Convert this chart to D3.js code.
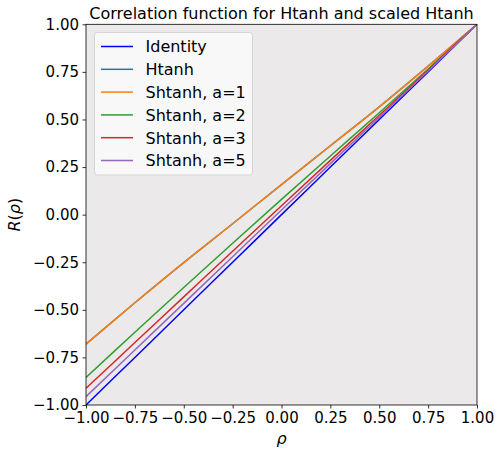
<!DOCTYPE html>
<html><head><meta charset="utf-8">
<script src="https://cdn.jsdelivr.net/npm/d3@7"></script>
<style>body{margin:0;background:#fff;} svg{display:block;font-family:"DejaVu Sans",sans-serif;}</style>
</head><body><svg id="c" width="501" height="454"></svg>
<script>
const rho      = [-1, -0.75, -0.5, -0.25, 0, 0.25, 0.5, 0.75, 1];
const identity = [-1, -0.75, -0.5, -0.25, 0, 0.25, 0.5, 0.75, 1];
const htanh    = [-0.68, -0.463, -0.252, -0.048, 0.158, 0.362, 0.566, 0.78, 1.0];
const shtanh1  = [-0.68, -0.463, -0.252, -0.048, 0.158, 0.362, 0.566, 0.78, 1.0];
const shtanh2  = [-0.855, -0.618, -0.383, -0.15, 0.08, 0.308, 0.535, 0.765, 1.0];
const shtanh3  = [-0.912, -0.672, -0.432, -0.192, 0.047, 0.285, 0.522, 0.76, 1.0];
const shtanh5  = [-0.956, -0.711, -0.466, -0.221, 0.024, 0.268, 0.511, 0.755, 1.0];
const seriesNames = ["Identity", "Htanh", "Shtanh, a=1", "Shtanh, a=2", "Shtanh, a=3", "Shtanh, a=5"];
const seriesColors = ["#0000ff", "#1f77b4", "#ff7f0e", "#2ca02c", "#d62728", "#9467bd"];
const ticks = [-1, -0.75, -0.5, -0.25, 0, 0.25, 0.5, 0.75, 1];
const seriesValues = [identity, htanh, shtanh1, shtanh2, shtanh3, shtanh5];

const svg = d3.select("#c");
const L = 86, R = 477, T = 24.3, B = 405;
const x = d3.scaleLinear().domain([-1, 1]).range([L, R]);
const y = d3.scaleLinear().domain([-1, 1]).range([B, T]);

svg.append("rect").attr("x", L).attr("y", T).attr("width", R - L).attr("height", B - T).attr("fill", "#ebe9e9");

svg.append("clipPath").attr("id", "pc").append("rect")
  .attr("x", L).attr("y", T).attr("width", R - L).attr("height", B - T);

const line = d3.line().x((d, i) => x(rho[i])).y(d => y(d)).curve(d3.curveCatmullRom.alpha(0.5));
const g = svg.append("g").attr("clip-path", "url(#pc)");
seriesValues.forEach((vals, k) => {
  g.append("path").attr("d", line(vals)).attr("fill", "none")
    .attr("stroke", seriesColors[k]).attr("stroke-width", 1.5);
});

const fmt = d3.format(".2f");
const minusFmt = v => fmt(v).replace("-", "\u2212");
const xAxis = svg.append("g").attr("transform", `translate(0,${B})`)
  .call(d3.axisBottom(x).tickValues(ticks).tickFormat(minusFmt).tickSize(3.5).tickPadding(3.5));
const yAxis = svg.append("g").attr("transform", `translate(${L},0)`)
  .call(d3.axisLeft(y).tickValues(ticks).tickFormat(minusFmt).tickSize(3.5).tickPadding(3.5));
[xAxis, yAxis].forEach(a => {
  a.select(".domain").remove();
  a.selectAll("line").attr("stroke", "#000").attr("stroke-width", 0.8);
  a.selectAll("text").attr("font-size", 15).attr("fill", "#000").attr("font-family", "DejaVu Sans");
});

svg.append("rect").attr("x", L).attr("y", T).attr("width", R - L).attr("height", B - T)
  .attr("fill", "none").attr("stroke", "#000").attr("stroke-width", 0.8);

svg.append("text").attr("x", (L + R) / 2).attr("y", 19).attr("text-anchor", "middle")
  .attr("font-size", 16).text("Correlation function for Htanh and scaled Htanh");
svg.append("text").attr("x", (L + R) / 2).attr("y", 444).attr("text-anchor", "middle")
  .attr("font-size", 16).attr("font-style", "italic").text("ρ");
svg.append("text").attr("transform", `translate(20,${(T + B) / 2}) rotate(-90)`).attr("text-anchor", "middle")
  .attr("font-size", 16).html('<tspan font-style="italic">R</tspan>(<tspan font-style="italic">ρ</tspan>)');

const lg = svg.append("g");
lg.append("rect").attr("x", 94.5).attr("y", 32.5).attr("width", 158).attr("height", 142.5)
  .attr("rx", 3).attr("fill", "#fafafa").attr("fill-opacity", 0.85).attr("stroke", "#d5d5d5").attr("stroke-width", 1);
seriesNames.forEach((n, k) => {
  const yy = 46.5 + k * 22.8;
  lg.append("line").attr("x1", 101).attr("x2", 133).attr("y1", yy).attr("y2", yy)
    .attr("stroke", seriesColors[k]).attr("stroke-width", 1.5);
  lg.append("text").attr("x", 145.5).attr("y", yy + 5.8).attr("font-size", 16).text(n);
});
</script></body></html>
